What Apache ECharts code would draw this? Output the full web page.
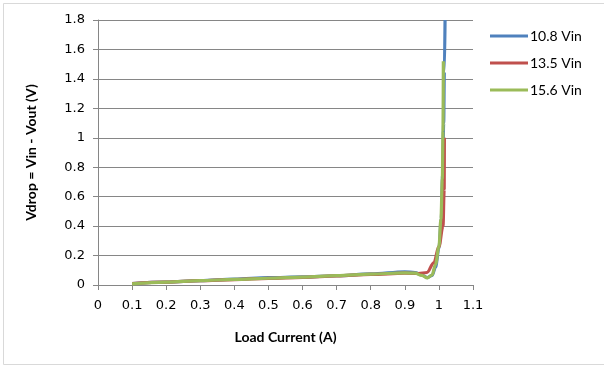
<!DOCTYPE html>
<html>
<head>
<meta charset="utf-8">
<script src="https://cdn.jsdelivr.net/npm/echarts@6/dist/echarts.min.js"></script>
<style>html,body{margin:0;padding:0;background:#fff;}#c{width:604px;height:365px;}</style>
</head>
<body>
<div id="c"></div>
<script>
// Series names
const seriesNames = ['10.8 Vin', '13.5 Vin', '15.6 Vin'];
// 10.8 Vin
const current108 = [0.1, 0.2, 0.3, 0.4, 0.5, 0.6, 0.7, 0.8, 0.9, 0.93, 0.95, 0.966, 0.98, 0.99, 1.0, 1.007, 1.011, 1.014, 1.016, 1.018];
const vdrop108   = [0.01, 0.02, 0.03, 0.04, 0.05, 0.055, 0.063, 0.075, 0.09, 0.085, 0.068, 0.05, 0.065, 0.12, 0.25, 0.45, 0.75, 1.1, 1.45, 1.8];
// 13.5 Vin
const current135 = [0.1, 0.2, 0.3, 0.4, 0.5, 0.6, 0.7, 0.8, 0.9, 0.94, 0.965, 0.985, 1.0, 1.012, 1.0155, 1.016];
const vdrop135   = [0.01, 0.02, 0.03, 0.037, 0.045, 0.052, 0.062, 0.072, 0.08, 0.078, 0.085, 0.15, 0.26, 0.4, 0.65, 1.0];
// 15.6 Vin
const current156 = [0.1, 0.2, 0.3, 0.4, 0.5, 0.6, 0.7, 0.8, 0.9, 0.93, 0.95, 0.966, 0.98, 0.99, 1.0, 1.006, 1.01, 1.012, 1.013];
const vdrop156   = [0.008, 0.02, 0.03, 0.038, 0.046, 0.053, 0.064, 0.074, 0.082, 0.08, 0.065, 0.048, 0.068, 0.14, 0.26, 0.45, 0.72, 1.05, 1.52];

const colors = ['#4F81BD', '#C0504D', '#9BBB59'];
const font = 'Lato, "Liberation Sans", sans-serif';
const tickFont = '"DejaVu Sans", sans-serif';

function pairs(xs, ys) { return xs.map((x, i) => [x, ys[i]]); }
const fmt = v => String(Number(v.toFixed(1)));

const chart = echarts.init(document.getElementById('c'), null, {renderer: 'canvas'});
chart.setOption({
  animation: false,
  backgroundColor: '#fff',
  color: colors,
  textStyle: {fontFamily: font},
  graphic: [{
    type: 'rect', left: 1, top: 1, shape: {width: 601, height: 361},
    style: {fill: 'none', stroke: '#D9D9D9', lineWidth: 1}, silent: true
  }],
  grid: {left: 98, right: 131, top: 20, bottom: 80, containLabel: false},
  legend: {
    orient: 'vertical', left: 485, top: 24, itemGap: 13,
    itemWidth: 38, itemHeight: 3, icon: 'rect',
    textStyle: {fontFamily: font, fontSize: 14, color: '#000', padding: [0, 0, 0, -3]},
    data: seriesNames
  },
  xAxis: {
    type: 'value', min: 0, max: 1.1, interval: 0.1,
    name: 'Load Current (A)', nameLocation: 'middle', nameGap: 45,
    nameTextStyle: {fontFamily: font, fontSize: 14, fontWeight: 'bold', color: '#000'},
    axisLine: {show: true, lineStyle: {color: '#868686', width: 1}},
    axisTick: {show: true, inside: false, length: 5, lineStyle: {color: '#868686'}},
    axisLabel: {fontFamily: tickFont, fontSize: 13, color: '#000', margin: 14, formatter: fmt},
    splitLine: {show: false}
  },
  yAxis: {
    type: 'value', min: 0, max: 1.8, interval: 0.2,
    name: 'Vdrop = Vin - Vout (V)', nameLocation: 'middle', nameGap: 60, nameRotate: 90,
    nameTextStyle: {fontFamily: font, fontSize: 14, fontWeight: 'bold', color: '#000'},
    axisLine: {show: true, lineStyle: {color: '#868686', width: 1}},
    axisTick: {show: true, inside: false, length: 5, lineStyle: {color: '#868686'}},
    axisLabel: {fontFamily: tickFont, fontSize: 13, color: '#000', margin: 13, formatter: fmt},
    splitLine: {show: true, lineStyle: {color: '#868686', width: 1}}
  },
  series: [
    {name: seriesNames[0], type: 'line', data: pairs(current108, vdrop108), showSymbol: false, smooth: 0.35, smoothMonotone: 'x', lineStyle: {width: 3.2}, clip: false},
    {name: seriesNames[1], type: 'line', data: pairs(current135, vdrop135), showSymbol: false, smooth: 0.35, smoothMonotone: 'x', lineStyle: {width: 3.2}, clip: false},
    {name: seriesNames[2], type: 'line', data: pairs(current156, vdrop156), showSymbol: false, smooth: 0.35, smoothMonotone: 'x', lineStyle: {width: 3.2}, clip: false}
  ]
});
</script>
</body>
</html>
